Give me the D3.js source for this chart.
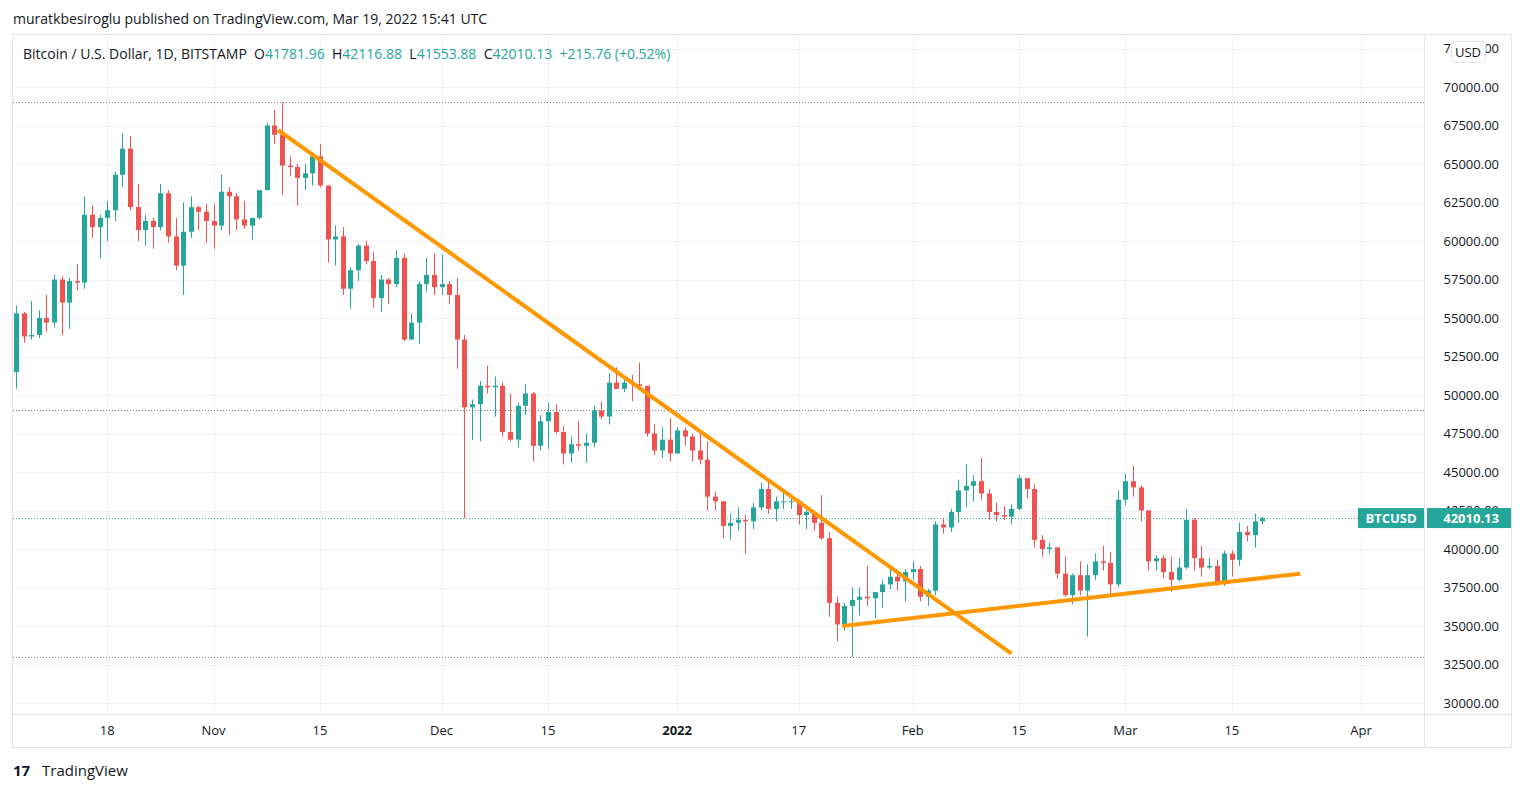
<!DOCTYPE html>
<html><head><meta charset="utf-8">
<script src="https://cdn.jsdelivr.net/npm/d3@7"></script>
<style>body{margin:0;background:#fff;font-family:"Open Sans",Roboto,sans-serif} text{white-space:pre}</style>
</head><body><svg id="c" width="1524" height="792"></svg>
<script>
const startDate = "2021-10-06";
// [open, high, low, close] in thousands USD, one per day from startDate
const ohlc = [
[51.5,55.8,50.4,55.3],[55.3,55.4,53.4,53.8],[53.8,56.1,53.6,53.9],[53.9,55.5,53.7,55.0],[55.0,56.5,54.1,54.7],
[54.7,57.8,54.4,57.5],[57.5,57.7,53.9,56.0],[56.0,57.6,54.3,57.4],[57.4,58.5,56.8,57.3],[57.3,62.9,56.9,61.7],
[61.7,62.3,60.2,60.9],[60.9,61.7,58.9,61.5],[61.5,62.6,60.0,62.0],[62.0,64.5,61.3,64.3],[64.3,67.0,63.5,66.0],
[66.0,66.8,62.0,62.2],[62.2,63.7,60.0,60.7],[60.7,61.7,59.7,61.3],[61.3,61.5,59.5,60.9],[60.9,63.7,60.7,63.1],
[63.1,63.3,59.9,60.3],[60.3,61.5,58.1,58.4],[58.4,62.5,56.5,60.6],[60.6,62.9,60.2,62.2],[62.2,62.3,60.7,61.9],
[61.9,62.4,59.9,61.3],[61.3,62.4,59.5,61.0],[61.0,64.3,60.7,63.2],[63.2,63.5,60.4,62.9],[62.9,63.1,60.7,61.4],
[61.4,62.6,60.8,61.0],[61.0,61.5,60.1,61.5],[61.5,63.3,61.4,63.3],[63.3,67.7,63.3,67.5],[67.5,68.5,66.3,66.9],
[66.9,69.0,63.0,64.9],[64.9,65.5,64.2,64.8],[64.8,65.0,62.3,64.1],[64.1,65.0,63.3,64.4],[64.4,65.5,63.6,65.5],
[65.5,66.3,63.5,63.6],[63.6,63.6,58.6,60.1],[60.1,61.0,58.4,60.3],[60.3,60.9,56.5,56.9],[56.9,58.3,55.6,58.1],
[58.1,59.8,57.4,59.7],[59.7,60.0,58.5,58.7],[58.7,59.3,55.7,56.3],[56.3,57.8,55.4,57.5],[57.5,57.6,55.9,57.2],
[57.2,59.4,57.0,58.9],[58.9,59.2,53.5,53.6],[53.6,55.3,53.6,54.7],[54.7,57.4,53.3,57.2],[57.2,58.9,56.7,57.8],
[57.8,59.2,56.5,57.0],[57.0,59.1,56.5,57.2],[57.2,57.4,55.9,56.5],[56.5,57.6,51.7,53.6],[53.6,53.9,42.0,49.2],
[49.2,49.7,47.1,49.4],[49.4,50.9,47.0,50.6],[50.6,51.9,50.1,50.5],[50.5,51.2,48.6,50.6],[50.6,50.8,47.3,47.6],
[47.6,50.1,47.0,47.1],[47.1,49.5,46.6,49.3],[49.3,50.7,48.7,50.1],[50.1,50.2,45.7,46.7],[46.7,48.7,46.4,48.3],
[48.3,49.5,46.5,48.9],[48.9,49.4,47.5,47.6],[47.6,48.0,45.5,46.2],[46.2,47.3,45.6,46.8],[46.8,48.3,46.4,46.7],
[46.7,47.5,45.6,46.9],[46.9,49.3,46.6,49.0],[49.0,49.6,48.4,48.6],[48.6,51.4,48.1,50.8],[50.8,51.8,50.4,50.4],
[50.4,51.2,50.2,50.8],[50.8,51.3,49.6,50.7],[50.7,52.1,50.5,50.6],[50.6,50.6,47.3,47.5],[47.5,48.1,46.1,46.4],
[46.4,47.9,45.9,47.1],[47.1,48.5,45.7,46.2],[46.2,47.9,46.2,47.7],[47.7,47.9,46.7,47.3],[47.3,47.5,45.7,46.4],
[46.4,47.5,45.5,45.8],[45.8,47.0,42.5,43.4],[43.4,43.7,42.5,43.1],[43.1,43.1,40.7,41.5],[41.5,42.3,40.6,41.7],
[41.7,42.7,41.2,41.9],[41.9,42.2,39.7,41.8],[41.8,43.0,41.3,42.7],[42.7,44.3,42.5,43.9],[43.9,44.4,42.3,42.6],
[42.6,43.4,41.8,43.1],[43.1,43.7,42.6,43.1],[43.1,43.4,42.6,43.1],[43.1,43.2,41.6,42.2],[42.2,42.6,41.3,42.4],
[42.4,42.5,41.2,41.7],[41.7,43.5,40.6,40.7],[40.7,41.1,35.6,36.5],[36.5,36.9,34.0,35.1],[35.1,36.5,34.7,36.3],
[36.3,37.5,33.0,36.7],[36.7,37.5,35.7,36.9],[36.9,38.9,36.3,36.8],[36.8,37.2,35.5,37.2],[37.2,38.0,36.2,37.7],
[37.7,38.7,37.4,38.2],[38.2,38.4,37.3,37.9],[37.9,38.7,36.6,38.5],[38.5,39.2,38.0,38.7],[38.7,38.9,36.6,36.9],
[36.9,37.4,36.3,37.3],[37.3,41.8,37.0,41.6],[41.6,42.0,41.0,41.4],[41.4,42.6,41.1,42.4],[42.4,44.5,41.7,43.8],
[43.8,45.5,42.7,44.1],[44.1,44.8,43.1,44.4],[44.4,45.9,43.2,43.6],[43.6,43.9,41.9,42.4],[42.4,43.0,41.8,42.2],
[42.2,42.8,41.9,42.1],[42.1,42.9,41.6,42.6],[42.6,44.8,42.5,44.6],[44.6,44.6,43.3,43.9],[43.9,44.2,40.1,40.6],
[40.6,40.9,39.5,40.0],[40.0,40.4,39.7,40.1],[40.1,40.1,38.1,38.4],[38.4,39.5,36.9,37.0],[37.0,38.4,36.4,38.3],
[38.3,39.2,37.0,37.3],[37.3,39.0,34.3,38.3],[38.3,39.7,38.0,39.2],[39.2,40.2,38.6,39.1],[39.1,39.8,37.0,37.7],
[37.7,43.8,37.5,43.2],[43.2,44.9,42.8,44.4],[44.4,45.4,43.4,44.0],[44.0,44.1,41.8,42.5],[42.5,42.5,38.6,39.2],
[39.2,39.6,38.6,39.4],[39.4,39.6,38.1,38.5],[38.5,39.5,37.2,38.0],[38.0,39.4,37.9,38.8],[38.8,42.6,38.7,41.9],
[41.9,42.0,38.6,39.4],[39.4,40.2,38.2,38.8],[38.8,39.4,38.7,38.9],[38.9,39.3,37.6,37.8],[37.8,39.9,37.6,39.7],
[39.7,39.9,38.2,39.3],[39.3,41.7,38.9,41.1],[41.1,41.5,40.5,40.9],[40.9,42.3,40.1,41.8],[41.8,42.1,41.6,42.0]
];
const priceTicks = [30000,32500,35000,37500,40000,42500,45000,47500,50000,52500,55000,57500,60000,62500,65000,67500,70000,72500];
const dateTicks = [["2021-10-18","18"],["2021-11-01","Nov"],["2021-11-15","15"],["2021-12-01","Dec"],["2021-12-15","15"],["2022-01-01","2022"],["2022-01-17","17"],["2022-02-01","Feb"],["2022-02-15","15"],["2022-03-01","Mar"],["2022-03-15","15"],["2022-04-01","Apr"]];
const hLines = [69000, 49000, 33000];
const trend1 = [["2021-11-09T12:00",67200],["2022-02-14T00:00",33200]];
const trend2 = [["2022-01-22T18:00",35000],["2022-03-24T00:00",38400]];
const lastPrice = 42010.13;

const svg = d3.select("#c");
const X0=13, X1=1424, Y0=35, Y1=715;
const x = d3.scaleUtc().domain([new Date("2021-10-06"), new Date("2022-04-01")]).range([16,1361]);
const y = d3.scaleLinear().domain([30000,70000]).range([703,87]);
const G="#26a69a", R="#ef5350";

svg.append("rect").attr("x",12.5).attr("y",34.5).attr("width",1499).attr("height",713).attr("fill","none").attr("stroke","#e0e3eb");
svg.append("line").attr("x1",1424.5).attr("x2",1424.5).attr("y1",35).attr("y2",747).attr("stroke","#e0e3eb");
svg.append("line").attr("x1",13).attr("x2",1511).attr("y1",714.5).attr("y2",714.5).attr("stroke","#e0e3eb");
svg.append("clipPath").attr("id","pc").append("rect").attr("x",X0).attr("y",Y0).attr("width",X1-X0).attr("height",Y1-Y0);
const g = svg.append("g").attr("clip-path","url(#pc)");
priceTicks.forEach(p=>g.append("line").attr("x1",X0).attr("x2",X1).attr("y1",Math.round(y(p))+.5).attr("y2",Math.round(y(p))+.5).attr("stroke","#f0f3fa"));
dateTicks.forEach(d=>g.append("line").attr("x1",Math.round(x(new Date(d[0])))+.5).attr("x2",Math.round(x(new Date(d[0])))+.5).attr("y1",Y0).attr("y2",Y1).attr("stroke","#f0f3fa"));
hLines.forEach(p=>g.append("line").attr("x1",X0).attr("x2",X1).attr("y1",Math.round(y(p))+.5).attr("y2",Math.round(y(p))+.5).attr("stroke","#787b86").attr("stroke-dasharray","1,2"));
g.append("line").attr("x1",X0).attr("x2",X1).attr("y1",Math.round(y(lastPrice))+.5).attr("y2",Math.round(y(lastPrice))+.5).attr("stroke",G).attr("stroke-dasharray","1,2");

const day = 864e5, t0 = new Date(startDate).getTime();
ohlc.forEach((d,i)=>{
  const cx = Math.round(x(new Date(t0+i*day)));
  const [o,h,l,c] = d.map(v=>v*1000);
  const col = c>=o?G:R;
  g.append("line").attr("x1",cx+.5).attr("x2",cx+.5).attr("y1",y(h)).attr("y2",y(l)).attr("stroke",col);
  const top=y(Math.max(o,c)), bot=y(Math.min(o,c));
  g.append("rect").attr("x",cx-2).attr("width",5).attr("y",top).attr("height",Math.max(1,bot-top)).attr("fill",col);
});
[trend1,trend2].forEach(t=>g.append("line").attr("x1",x(new Date(t[0][0]))).attr("y1",y(t[0][1])).attr("x2",x(new Date(t[1][0]))).attr("y2",y(t[1][1])).attr("stroke","#ff9800").attr("stroke-width",4));

priceTicks.forEach(p=>svg.append("text").attr("x",1499).attr("y",y(p)+4.5).attr("text-anchor","end").attr("font-size",13).attr("fill","#131722").text(p.toFixed(2)));
dateTicks.forEach(d=>svg.append("text").attr("x",x(new Date(d[0]))).attr("y",735).attr("text-anchor","middle").attr("font-size",13).attr("font-weight",d[1]==="2022"?"bold":"normal").attr("fill","#131722").text(d[1]));

svg.append("rect").attr("x",1427).attr("y",y(lastPrice)-10).attr("width",84).attr("height",20).attr("fill",G);
svg.append("rect").attr("x",1358).attr("y",y(lastPrice)-10).attr("width",66).attr("height",20).attr("fill",G);
svg.append("text").attr("x",1391).attr("y",y(lastPrice)+5).attr("text-anchor","middle").attr("font-size",13).attr("font-weight","bold").attr("fill","#fff").text("BTCUSD");
svg.append("text").attr("x",1499).attr("y",y(lastPrice)+5).attr("text-anchor","end").attr("font-size",13).attr("font-weight","bold").attr("fill","#fff").text("42010.13");
svg.append("rect").attr("x",1451.5).attr("y",41.5).attr("width",34).attr("height",21).attr("rx",4).attr("fill","#fff").attr("stroke","#e0e3eb");
svg.append("text").attr("x",1468).attr("y",57).attr("text-anchor","middle").attr("font-size",13).attr("fill","#131722").text("USD");

svg.append("text").attr("x",13).attr("y",24).attr("font-size",14).attr("fill","#131722").text("muratkbesiroglu published on TradingView.com, Mar 19, 2022 15:41 UTC");
const tt = svg.append("text").attr("x",23).attr("y",59).attr("font-size",14).attr("fill","#131722");
tt.append("tspan").text("Bitcoin / U.S. Dollar, 1D, BITSTAMP  O");
tt.append("tspan").attr("fill",G).text("41781.96");
tt.append("tspan").text("  H");
tt.append("tspan").attr("fill",G).text("42116.88");
tt.append("tspan").text("  L");
tt.append("tspan").attr("fill",G).text("41553.88");
tt.append("tspan").text("  C");
tt.append("tspan").attr("fill",G).text("42010.13  +215.76 (+0.52%)");
svg.append("text").attr("x",13).attr("y",776).attr("font-size",15).attr("font-weight","bold").attr("fill","#131722").text("17");
svg.append("text").attr("x",42).attr("y",776).attr("font-size",15).attr("fill","#131722").text("TradingView");
</script></body></html>
